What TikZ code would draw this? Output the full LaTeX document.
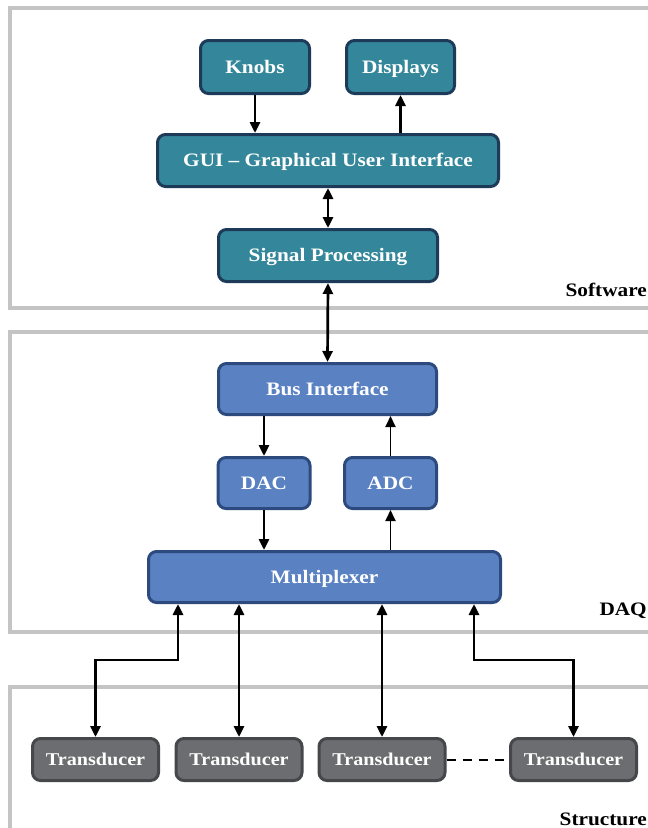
\documentclass[tikz,border=0pt]{standalone}
\usepackage{fontspec}
\setmainfont[FakeStretch=1.12]{Liberation Serif}
\usetikzlibrary{arrows.meta}
\definecolor{tealfill}{HTML}{34879A}
\definecolor{tealline}{HTML}{1D3A58}
\definecolor{bluefill}{HTML}{5A82C3}
\definecolor{blueline}{HTML}{2C4A7E}
\definecolor{grayfill}{HTML}{6C6D70}
\definecolor{grayline}{HTML}{46474A}
\definecolor{framegray}{HTML}{C4C4C4}
\begin{document}
\begin{tikzpicture}[x=1pt,y=-1pt,
  box/.style={line width=3pt, rounded corners=8pt, text=white, inner sep=0pt, align=center,
    text height=12.5pt, text depth=0.5pt,
    font=\fontsize{19}{22}\selectfont\bfseries},
  swbox/.style={box, draw=tealline, fill=tealfill},
  daqbox/.style={box, draw=blueline, fill=bluefill},
  trbox/.style={box, draw=grayline, fill=grayfill, font=\fontsize{18}{21}\selectfont\bfseries,
    minimum width=126pt, minimum height=42pt},
  frame/.style={draw=framegray, line width=3.5pt},
  lbl/.style={font=\fontsize{19}{22}\selectfont\bfseries, text=black, inner sep=0pt},
  arr/.style={line width=2.7pt, -{Triangle[length=11pt,width=10pt]}},
  darr/.style={line width=2.7pt, {Triangle[length=11pt,width=10pt]}-{Triangle[length=11pt,width=10pt]}},
]
\useasboundingbox (0,0) rectangle (648,828);
\clip (0,0) rectangle (648,828);
\fill[white] (0,0) rectangle (648,828);

% layer frames
\draw[frame] (10,8) rectangle (720,308);
\draw[frame] (10,332) rectangle (720,632);
\draw[frame] (10,687) rectangle (720,900);

\node[lbl, anchor=base east] (lsw) at (647,296) {Software};
\node[lbl, anchor=base east] (ldaq) at (647,615) {DAQ};
\node[lbl, anchor=base east] (lst) at (647,825) {Structure};

% software
\node[swbox, minimum width=109pt, minimum height=53pt] (knobs) at (255,67) {Knobs};
\node[swbox, minimum width=108pt, minimum height=53pt] (disp) at (400.5,67) {Displays};
\node[swbox, minimum width=341pt, minimum height=52pt] (gui) at (328,160.5) {GUI – Graphical User Interface};
\node[swbox, minimum width=219pt, minimum height=52pt] (sig) at (328,255.5) {Signal Processing};

% DAQ
\node[daqbox, minimum width=218pt, minimum height=51pt] (bus) at (327.5,389) {Bus Interface};
\node[daqbox, minimum width=92pt, minimum height=51pt] (dac) at (264,483) {DAC};
\node[daqbox, minimum width=92pt, minimum height=51pt] (adc) at (390.5,483) {ADC};
\node[daqbox, minimum width=352pt, minimum height=51pt] (mux) at (324.5,577) {Multiplexer};

% structure
\node[trbox] (t1) at (95.5,759.5) {Transducer};
\node[trbox] (t2) at (239,759.5) {Transducer};
\node[trbox] (t3) at (382,759.5) {Transducer};
\node[trbox] (t4) at (573.5,759.5) {Transducer};

% connectors
\draw[arr] (knobs.south) -- (knobs.south |- gui.north);
\draw[arr] (disp.south |- gui.north) -- (disp.south);
\draw[darr] (gui.south) -- (sig.north);
\draw[darr] (sig.south) -- (bus.north);
\draw[arr] (dac.north |- bus.south) -- (dac.north);
\draw[arr, line width=1.8pt] (adc.north) -- (adc.north |- bus.south);
\draw[arr] (dac.south) -- (dac.south |- mux.north);
\draw[arr, line width=1.8pt] (adc.south |- mux.north) -- (adc.south);

\draw[darr] ([xshift=-146.5pt]mux.south) -- ++(0,56) -| (t1.north);
\draw[darr] (t2.north |- mux.south) -- (t2.north);
\draw[darr] (t3.north |- mux.south) -- (t3.north);
\draw[darr] ([xshift=149.5pt]mux.south) -- ++(0,56) -| (t4.north);

\draw[line width=2pt, dash pattern=on 9pt off 7pt] (t3.east) -- (t4.west);
\end{tikzpicture}
\end{document}
